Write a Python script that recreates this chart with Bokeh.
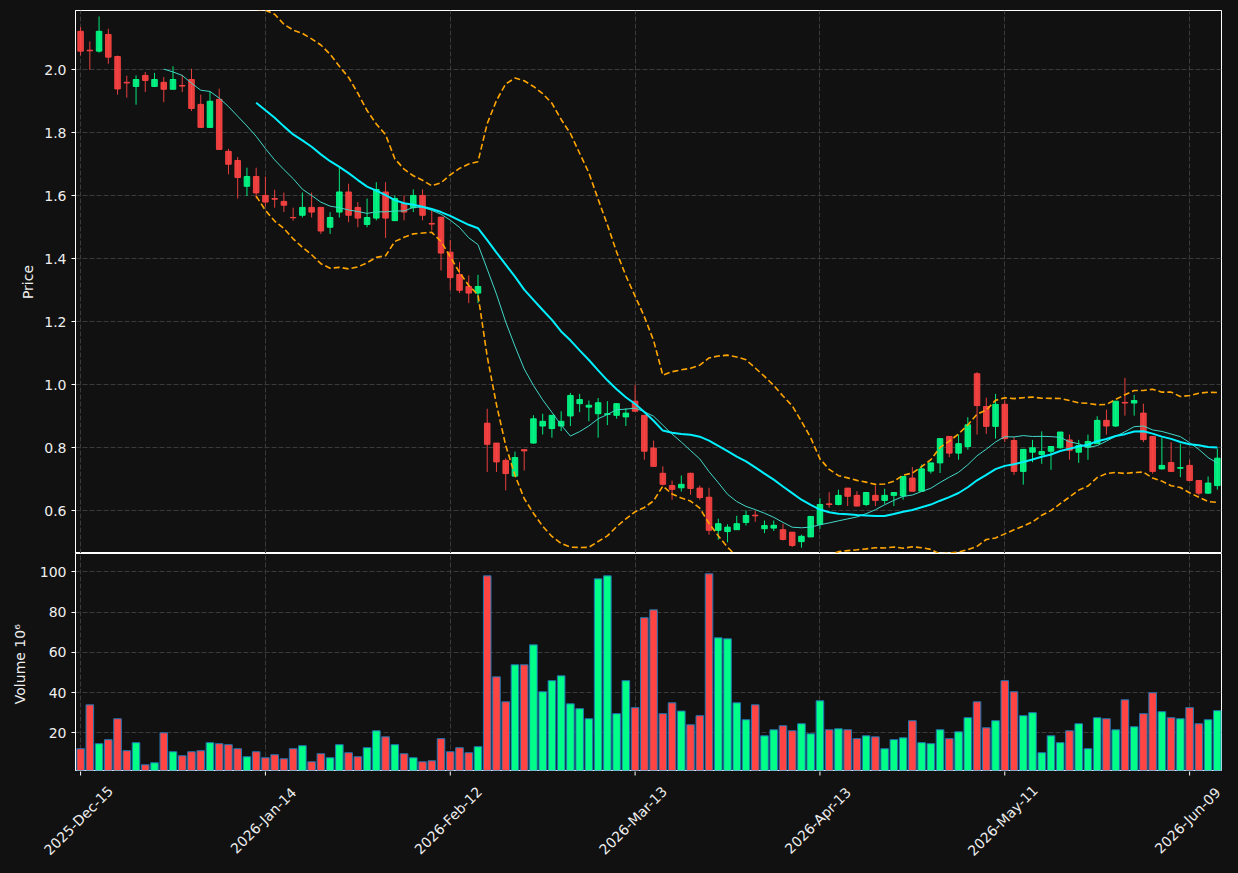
import numpy as np
import pandas as pd
from math import pi
from bokeh.plotting import figure
from bokeh.layouts import column
from bokeh.models import Range1d, FixedTicker, Grid, CustomJSTickFormatter
from bokeh.core.properties import value
from bokeh.embed import file_html
from bokeh.resources import INLINE

# ---------------- data ----------------
opens = [2.122, 2.062, 2.059, 2.112, 2.042, 1.960, 1.947, 1.982, 1.947, 1.960,
         1.938, 1.950, 1.969, 1.890, 1.817, 1.906, 1.741, 1.712, 1.630, 1.661,
         1.601, 1.591, 1.582, 1.531, 1.538, 1.563, 1.563, 1.500, 1.548, 1.612,
         1.563, 1.509, 1.529, 1.612, 1.521, 1.575, 1.562, 1.601, 1.512, 1.532,
         1.421, 1.350, 1.312, 1.291, 0.878, 0.815, 0.760, 0.710, 0.794, 0.815,
         0.869, 0.861, 0.869, 0.901, 0.940, 0.929, 0.908, 0.906, 0.903, 0.898,
         0.948, 0.903, 0.799, 0.719, 0.680, 0.673, 0.719, 0.672, 0.643, 0.538,
         0.534, 0.540, 0.563, 0.586, 0.543, 0.545, 0.540, 0.532, 0.502, 0.517,
         0.557, 0.622, 0.620, 0.672, 0.649, 0.620, 0.649, 0.633, 0.649, 0.647,
         0.704, 0.662, 0.726, 0.752, 0.836, 0.783, 0.804, 1.035, 0.931, 0.868,
         0.938, 0.823, 0.725, 0.786, 0.779, 0.789, 0.800, 0.825, 0.786, 0.802,
         0.813, 0.887, 0.869, 0.944, 0.942, 0.910, 0.836, 0.733, 0.753, 0.735,
         0.744, 0.696, 0.656, 0.680]
highs = [2.135, 2.090, 2.169, 2.130, 2.045, 1.981, 1.982, 1.993, 1.990, 1.977,
         2.011, 1.984, 2.003, 1.921, 1.931, 1.940, 1.749, 1.723, 1.689, 1.689,
         1.661, 1.619, 1.610, 1.562, 1.610, 1.610, 1.563, 1.548, 1.689, 1.638,
         1.580, 1.591, 1.643, 1.643, 1.601, 1.601, 1.620, 1.620, 1.553, 1.532,
         1.460, 1.389, 1.347, 1.349, 0.924, 0.815, 0.767, 0.788, 0.794, 0.903,
         0.908, 0.903, 0.916, 0.974, 0.971, 0.950, 0.958, 0.948, 0.940, 0.926,
         1.000, 0.903, 0.823, 0.741, 0.696, 0.712, 0.721, 0.680, 0.673, 0.575,
         0.557, 0.584, 0.601, 0.601, 0.569, 0.569, 0.559, 0.532, 0.524, 0.582,
         0.640, 0.659, 0.667, 0.672, 0.662, 0.658, 0.680, 0.670, 0.658, 0.709,
         0.739, 0.747, 0.752, 0.829, 0.836, 0.842, 0.897, 1.040, 0.959, 0.971,
         0.952, 0.834, 0.795, 0.825, 0.852, 0.804, 0.850, 0.842, 0.825, 0.842,
         0.900, 0.921, 0.948, 1.022, 0.968, 0.940, 0.836, 0.832, 0.818, 0.813,
         0.762, 0.696, 0.709, 0.797]
lows = [2.045, 2.000, 2.054, 2.019, 1.921, 1.911, 1.889, 1.929, 1.945, 1.897,
        1.938, 1.929, 1.869, 1.817, 1.817, 1.747, 1.668, 1.591, 1.599, 1.591,
        1.566, 1.562, 1.548, 1.521, 1.531, 1.531, 1.479, 1.479, 1.531, 1.516,
        1.500, 1.500, 1.522, 1.466, 1.521, 1.522, 1.548, 1.522, 1.490, 1.363,
        1.300, 1.291, 1.259, 1.259, 0.723, 0.723, 0.665, 0.710, 0.728, 0.813,
        0.842, 0.832, 0.853, 0.869, 0.913, 0.884, 0.832, 0.872, 0.892, 0.869,
        0.916, 0.762, 0.741, 0.680, 0.635, 0.661, 0.651, 0.635, 0.524, 0.508,
        0.500, 0.540, 0.553, 0.565, 0.529, 0.536, 0.506, 0.485, 0.483, 0.517,
        0.543, 0.610, 0.617, 0.615, 0.615, 0.615, 0.615, 0.622, 0.615, 0.635,
        0.662, 0.662, 0.718, 0.720, 0.770, 0.762, 0.794, 0.842, 0.844, 0.829,
        0.818, 0.714, 0.683, 0.754, 0.749, 0.730, 0.797, 0.762, 0.752, 0.762,
        0.813, 0.842, 0.866, 0.902, 0.902, 0.818, 0.718, 0.731, 0.725, 0.707,
        0.696, 0.649, 0.654, 0.667]
closes = [2.059, 2.060, 2.122, 2.040, 1.939, 1.958, 1.969, 1.966, 1.969, 1.938,
          1.969, 1.948, 1.877, 1.817, 1.900, 1.747, 1.700, 1.658, 1.661, 1.609,
          1.580, 1.589, 1.570, 1.530, 1.563, 1.548, 1.488, 1.531, 1.612, 1.538,
          1.529, 1.531, 1.620, 1.529, 1.591, 1.548, 1.601, 1.538, 1.510, 1.418,
          1.340, 1.300, 1.291, 1.312, 0.811, 0.755, 0.718, 0.769, 0.790, 0.892,
          0.884, 0.903, 0.884, 0.966, 0.953, 0.935, 0.943, 0.908, 0.940, 0.910,
          0.916, 0.789, 0.741, 0.684, 0.668, 0.684, 0.671, 0.642, 0.538, 0.559,
          0.548, 0.559, 0.585, 0.584, 0.553, 0.554, 0.509, 0.490, 0.519, 0.582,
          0.620, 0.620, 0.649, 0.646, 0.615, 0.658, 0.633, 0.649, 0.658, 0.709,
          0.662, 0.733, 0.752, 0.829, 0.783, 0.813, 0.873, 0.934, 0.868, 0.938,
          0.829, 0.725, 0.795, 0.800, 0.788, 0.804, 0.850, 0.792, 0.807, 0.820,
          0.887, 0.869, 0.948, 0.942, 0.950, 0.826, 0.725, 0.744, 0.725, 0.737,
          0.696, 0.656, 0.688, 0.767]
volumes = [12.1, 33.9, 14.6, 16.6, 27.0, 11.1, 15.1, 4.1, 5.1, 20.0,
           10.6, 8.6, 10.6, 11.1, 15.1, 14.6, 14.1, 12.1, 8.1, 10.6,
           7.6, 9.1, 7.1, 12.1, 13.6, 5.6, 9.6, 7.6, 14.1, 10.1,
           8.1, 12.6, 21.0, 18.0, 14.1, 9.6, 7.6, 5.6, 6.1, 17.1,
           10.6, 12.6, 10.1, 13.1, 98.0, 47.8, 35.4, 53.8, 53.8, 63.7,
           40.4, 45.9, 48.3, 34.4, 32.0, 27.0, 96.5, 98.0, 29.5, 45.9,
           32.5, 77.2, 81.1, 29.5, 34.9, 30.8, 24.0, 28.5, 99.0, 67.2,
           66.7, 34.9, 26.5, 33.9, 18.5, 21.5, 23.5, 21.0, 24.5, 19.5,
           35.9, 21.5, 22.0, 21.5, 17.1, 18.5, 18.0, 12.1, 16.6, 17.5,
           26.0, 15.1, 14.6, 21.5, 17.1, 20.5, 27.5, 35.4, 22.5, 26.0,
           45.9, 40.4, 28.5, 30.0, 10.1, 18.5, 15.1, 21.0, 24.5, 12.1,
           27.5, 27.0, 21.5, 36.4, 23.0, 29.5, 39.9, 30.5, 27.5, 27.0,
           32.5, 24.5, 26.5, 31.0]
tick_idx = [0, 20, 40, 60, 80, 100, 120]
tick_labels = ["2025-Dec-15", "2026-Jan-14", "2026-Feb-12", "2026-Mar-13",
               "2026-Apr-13", "2026-May-11", "2026-Jun-09"]
price_ticks = [0.6, 0.8, 1.0, 1.2, 1.4, 1.6, 1.8, 2.0]
volume_ticks = [20, 40, 60, 80, 100]

# ---------------- derived ----------------
o = np.array(opens); h = np.array(highs); l = np.array(lows); c = np.array(closes)
v = np.array(volumes)
x = np.arange(len(c))
up = c >= o
s = pd.Series(c)
ma10 = s.rolling(10).mean().to_numpy()
ma20 = s.rolling(20).mean().to_numpy()
sd20 = s.rolling(20).std().to_numpy()
upper = ma20 + 2 * sd20
lower = ma20 - 2 * sd20

BG = "#111111"
UP = "#00ff88"
DN = "#ff4444"
GRID = "#3a3a3a"
TXT = "#eeeeee"
FONT = "DejaVu Sans"

W = 1238
LEFT, RIGHT = 75, 17
X0, X1 = -0.55, 123.45
xr = Range1d(X0, X1)
ppu = (W - LEFT - RIGHT) / (X1 - X0)


def style(p):
    p.background_fill_color = BG
    p.border_fill_color = BG
    p.outline_line_color = "white"
    p.outline_line_width = 1
    p.ygrid.grid_line_color = GRID
    p.ygrid.grid_line_dash = "5 2"
    if len(p.xgrid) == 0:
        p.add_layout(Grid(dimension=0))
    for g in p.xgrid:
        g.ticker = FixedTicker(ticks=tick_idx)
        g.grid_line_color = GRID
        g.grid_line_dash = "5 2"
    p.yaxis.axis_line_color = "white"
    p.yaxis.major_tick_line_color = "white"
    p.yaxis.minor_tick_line_color = None
    p.yaxis.major_tick_out = 4
    p.yaxis.major_tick_in = 0
    p.yaxis.major_label_text_color = TXT
    p.yaxis.major_label_text_font = FONT
    p.yaxis.major_label_text_font_size = "14px"
    p.yaxis.axis_label_text_color = TXT
    p.yaxis.axis_label_text_font = FONT
    p.yaxis.axis_label_text_font_size = "14px"
    p.yaxis.axis_label_text_font_style = "normal"


# ---------------- price panel ----------------
p1 = figure(width=W, height=553, x_range=xr, y_range=Range1d(0.4644, 2.188),
            output_backend="svg", toolbar_location=None, x_axis_location=None,
            min_border_left=LEFT, min_border_right=RIGHT, min_border_top=10,
            min_border_bottom=0)
style(p1)
p1.yaxis.ticker = FixedTicker(ticks=price_ticks)
p1.yaxis.formatter = CustomJSTickFormatter(code="return tick.toFixed(1);")
p1.yaxis.axis_label = "Price"
p1.yaxis.axis_label_standoff = 5

cols = np.where(up, UP, DN)
p1.segment(x0=x, y0=l, x1=x, y1=h, color=cols, line_width=1, alpha=0.9)
p1.vbar(x=x, width=0.6, top=np.maximum(o, c), bottom=np.minimum(o, c),
        fill_color=cols, line_color=cols, alpha=0.9)

p1.line(x, upper, color="#ffa500", line_width=1.6, line_dash="6 3")
p1.line(x, lower, color="#ffa500", line_width=1.6, line_dash="6 3")
p1.line(x, ma10, color="#40d8c8", line_width=1)
p1.line(x, ma20, color="#00f0ff", line_width=2)

# ---------------- volume panel ----------------
p2 = figure(width=W, height=218, x_range=xr, y_range=Range1d(1.27, 109.1),
            output_backend="svg", toolbar_location=None, x_axis_location=None,
            min_border_left=LEFT, min_border_right=RIGHT, min_border_top=0,
            min_border_bottom=1)
style(p2)
p2.yaxis.ticker = FixedTicker(ticks=volume_ticks)
p2.yaxis.axis_label = "Volume  10\u2076"
p2.yaxis.axis_label_standoff = 9

p2.vbar(x=x, width=0.82, top=v, bottom=0, fill_color=cols, line_color="#1f77b4",
        line_width=1)

# ---------------- date axis strip ----------------
H3 = 873 - 553 - 218
p3 = figure(width=W, height=H3,
            x_range=Range1d(X0 - LEFT / ppu, X1 + RIGHT / ppu),
            y_range=Range1d(0, H3), output_backend="svg", toolbar_location=None,
            x_axis_location=None, y_axis_location=None,
            min_border_left=0, min_border_right=0, min_border_top=0,
            min_border_bottom=0)
p3.frame_align = False
p3.background_fill_color = BG
p3.border_fill_color = BG
p3.outline_line_color = None
p3.grid.visible = False
p3.segment(x0=tick_idx, y0=[H3 + 1] * len(tick_idx), x1=tick_idx,
           y1=[H3 - 4] * len(tick_idx), color="white", line_width=1)
p3.text(x=[t - 0.22 for t in tick_idx], y=[H3 - 49] * len(tick_idx),
        text=tick_labels, angle=pi / 4, text_align="center",
        text_baseline="middle", text_color=TXT, text_font=value(FONT),
        text_font_size="14px")

layout = column(p1, p2, p3, styles={"background-color": BG})
open("out.html", "w").write(file_html(layout, INLINE))
